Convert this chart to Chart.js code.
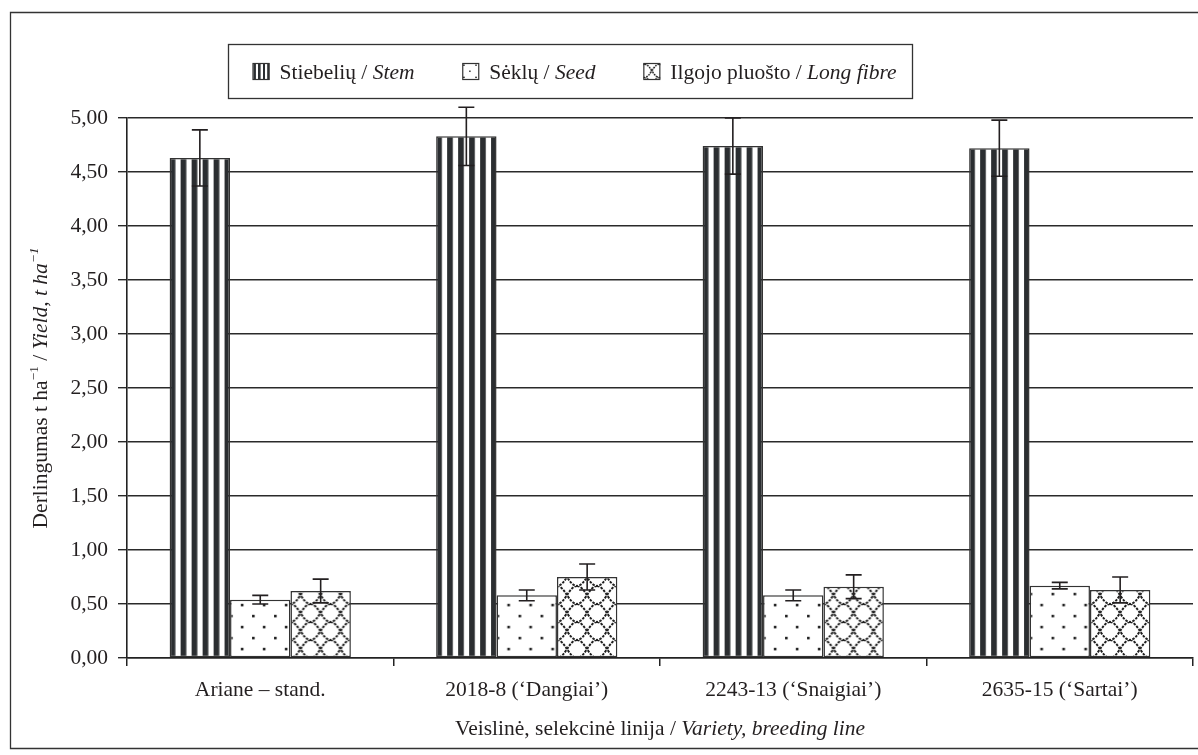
<!DOCTYPE html>
<html><head><meta charset="utf-8">
<script src="https://cdn.jsdelivr.net/npm/chart.js@4"></script>
<style>html,body{margin:0;padding:0;background:#fff}#wrap{width:1198px;height:755px}</style>
</head><body><div id="wrap"><canvas id="c" width="1198" height="755"></canvas></div>
<script>
// ---------- data ----------
const categories = ['Ariane – stand.', '2018-8 (‘Dangiai’)', '2243-13 (‘Snaigiai’)', '2635-15 (‘Sartai’)'];
const seriesNames = ['Stiebelių / Stem', 'Sėklų / Seed', 'Ilgojo pluošto / Long fibre'];
const stemValues  = [4.63, 4.83, 4.74, 4.72];
const stemErrors  = [0.26, 0.27, 0.26, 0.26];
const seedValues  = [0.54, 0.58, 0.58, 0.67];
const seedErrors  = [0.04, 0.05, 0.05, 0.03];
const fibreValues = [0.62, 0.75, 0.66, 0.63];
const fibreErrors = [0.11, 0.12, 0.11, 0.12];
const yMin = 0, yMax = 5, yStep = 0.5;
const yTitleParts = ['Derlingumas t ha', '−1', ' / ', 'Yield, t ha', '−1'];
const xTitleParts = ['Veislinė, selekcinė linija / ', 'Variety, breeding line'];

// ---------- style ----------
const INK = '#231f20';
const SERIF = "'Liberation Serif', 'Times New Roman', serif";
const FS = 21.5;
const CAT_PCT = 0.68;

function tileCanvas(w, h, draw) {
  const c = document.createElement('canvas'); c.width = w; c.height = h;
  const g = c.getContext('2d'); g.fillStyle = '#fff'; g.fillRect(0, 0, w, h); draw(g); return c;
}
const tiles = {
  stem: tileCanvas(11, 4, g => { g.fillStyle = '#2b2e31'; g.fillRect(0, 0, 5.7, 4); }),
  seed: tileCanvas(22, 22, g => { g.fillStyle = '#222'; g.fillRect(10.8, 11.8, 2.6, 2.6); g.fillRect(0, 0.8, 2.6, 2.6); }),
  fibre: tileCanvas(20, 18, g => {
    g.strokeStyle = '#1e1e1e'; g.lineWidth = 1.9; g.setLineDash([2.6, 1.2]);
    for (const dx of [-20, 0, 20]) {
      g.beginPath(); g.moveTo(dx + 0, 0); g.bezierCurveTo(dx + 9, 1, dx + 11, 17, dx + 20, 18); g.stroke();
      g.beginPath(); g.moveTo(dx + 20, 0); g.bezierCurveTo(dx + 11, 1, dx + 9, 17, dx + 0, 18); g.stroke();
    }
  })
};
const kinds = ['stem', 'seed', 'fibre'];
const legendScale = {stem: 0.42, seed: 0.55, fibre: 0.75};

function barFill(kind) {
  return (ctx) => {
    const chart = ctx.chart;
    const xs = chart.scales.x, ys = chart.scales.y;
    const p = chart.ctx.createPattern(tiles[kind], 'repeat');
    if (!xs || !ys || ctx.dataIndex === undefined) return p;
    const catW = (xs.right - xs.left) / categories.length;
    const bw = catW * CAT_PCT / 3;
    const center = xs.getPixelForValue(ctx.dataIndex);
    const left = center - 1.5 * bw + ctx.datasetIndex * bw;
    const bottom = ys.getPixelForValue(0);
    let m = new DOMMatrix().translate(left, bottom);
    if (kind === 'stem') m = m.scale((bw / 5.5) / 11, 1);
    p.setTransform(m);
    return p;
  };
}

const errorsByDataset = [stemErrors, seedErrors, fibreErrors];

const framePlugin = {
  id: 'frame',
  beforeDraw(chart) {
    const c = chart.ctx; c.save();
    c.fillStyle = '#fff'; c.fillRect(0, 0, chart.width, chart.height);
    c.strokeStyle = '#333'; c.lineWidth = 1.3;
    c.beginPath(); c.moveTo(1198, 12.5); c.lineTo(10.5, 12.5); c.lineTo(10.5, 748.5); c.lineTo(1198, 748.5); c.stroke();
    c.restore();
  }
};

const errorPlugin = {
  id: 'errbars',
  afterDatasetsDraw(chart) {
    const c = chart.ctx, ys = chart.scales.y;
    c.save(); c.strokeStyle = INK; c.lineWidth = 1.6;
    chart.data.datasets.forEach((ds, i) => {
      const meta = chart.getDatasetMeta(i);
      meta.data.forEach((bar, j) => {
        const v = ds.data[j], e = errorsByDataset[i][j];
        const yt = ys.getPixelForValue(v + e), yb = ys.getPixelForValue(v - e);
        const x = bar.x, cw = 8;
        c.beginPath();
        c.moveTo(x, yt); c.lineTo(x, yb);
        c.moveTo(x - cw, yt); c.lineTo(x + cw, yt);
        c.moveTo(x - cw, yb); c.lineTo(x + cw, yb);
        c.stroke();
      });
    });
    c.restore();
  }
};

function fontStr(s, size) { return (s.it ? 'italic ' : '') + (s.sup ? size * 0.62 : size) + 'px ' + SERIF; }
function drawSegments(c, segs, x, y, align, size) {
  size = size || FS;
  const widths = segs.map(s => { c.font = fontStr(s, size); return c.measureText(s.t).width; });
  const total = widths.reduce((a, b) => a + b, 0);
  let cx = align === 'center' ? x - total / 2 : x;
  c.textBaseline = 'alphabetic'; c.textAlign = 'left';
  segs.forEach((s, k) => {
    c.font = fontStr(s, size);
    c.fillText(s.t, cx, s.sup ? y - size * 0.42 : y);
    cx += widths[k];
  });
  return total;
}

const textPlugin = {
  id: 'texts',
  afterDraw(chart) {
    const c = chart.ctx, ca = chart.chartArea;
    c.save(); c.fillStyle = INK;
    // y title
    c.save(); c.translate(47, (ca.top + ca.bottom) / 2); c.rotate(-Math.PI / 2);
    drawSegments(c, [
      {t: yTitleParts[0]}, {t: yTitleParts[1], sup: true}, {t: yTitleParts[2]},
      {t: yTitleParts[3], it: true}, {t: yTitleParts[4], it: true, sup: true}
    ], 0, 0, 'center');
    c.restore();
    // x title
    drawSegments(c, [{t: xTitleParts[0]}, {t: xTitleParts[1], it: true}], (ca.left + ca.right) / 2, 735, 'center');
    // legend box
    const bx = 228.5, by = 44.5, bw = 684, bh = 54;
    c.strokeStyle = '#333'; c.lineWidth = 1.3; c.strokeRect(bx, by, bw, bh);
    const icon = 17, gapIT = 10;
    const parts = seriesNames.map(n => n.split(' / '));
    const tw = parts.map(p => {
      c.font = FS + 'px ' + SERIF; const a = c.measureText(p[0] + ' / ').width;
      c.font = 'italic ' + FS + 'px ' + SERIF; return a + c.measureText(p[1]).width;
    });
    const leftM = 24, rightM = 16;
    const used = 3 * (icon + gapIT) + tw.reduce((a, b) => a + b, 0);
    const gap = (bw - leftM - rightM - used) / 2;
    let x = bx + leftM;
    const cy = by + bh / 2;
    parts.forEach((p, i) => {
      const pat = c.createPattern(tiles[kinds[i]], 'repeat');
      const sc = legendScale[kinds[i]];
      pat.setTransform(new DOMMatrix().translate(x + 1, cy - icon / 2 + 1).scale(sc, sc));
      c.fillStyle = pat; c.fillRect(x, cy - icon / 2, icon, icon);
      c.strokeStyle = '#333'; c.lineWidth = 1.2; c.strokeRect(x + 0.5, cy - icon / 2 + 0.5, icon - 1, icon - 1);
      c.fillStyle = INK;
      drawSegments(c, [{t: p[0] + ' / '}, {t: p[1], it: true}], x + icon + gapIT, cy + 7);
      x += icon + gapIT + tw[i] + gap;
    });
    c.restore();
  }
};

Chart.defaults.font.family = SERIF;
Chart.defaults.font.size = FS;
Chart.defaults.color = INK;

new Chart(document.getElementById('c'), {
  type: 'bar',
  data: {
    labels: categories,
    datasets: [
      {label: seriesNames[0], data: stemValues, backgroundColor: barFill('stem')},
      {label: seriesNames[1], data: seedValues, backgroundColor: barFill('seed')},
      {label: seriesNames[2], data: fibreValues, backgroundColor: barFill('fibre')}
    ]
  },
  options: {
    responsive: false, animation: false, events: [], devicePixelRatio: 1,
    layout: {padding: {top: 118, right: 5, left: 0, bottom: 0}},
    datasets: {bar: {categoryPercentage: CAT_PCT, barPercentage: 1, borderColor: '#333', borderWidth: 1.5, borderSkipped: false}},
    plugins: {legend: {display: false}, tooltip: {enabled: false}},
    scales: {
      x: {
        afterFit: s => { s.height = 97; },
        grid: {offset: true, drawOnChartArea: false, drawTicks: true, tickLength: 8, color: '#222', lineWidth: 1.5},
        border: {display: true, color: '#222', width: 1.6},
        ticks: {padding: 11, color: INK, font: {size: FS}, maxRotation: 0, autoSkip: false}
      },
      y: {
        min: yMin, max: yMax,
        afterFit: s => { s.width = 127; },
        grid: {color: '#2a2a2a', lineWidth: 1.4, tickLength: 9, drawTicks: true},
        border: {display: true, color: '#222', width: 1.6},
        ticks: {stepSize: yStep, padding: 10, color: INK, font: {size: FS},
          callback: v => v.toFixed(2).replace('.', ',')}
      }
    }
  },
  plugins: [framePlugin, errorPlugin, textPlugin]
});
</script></body></html>
